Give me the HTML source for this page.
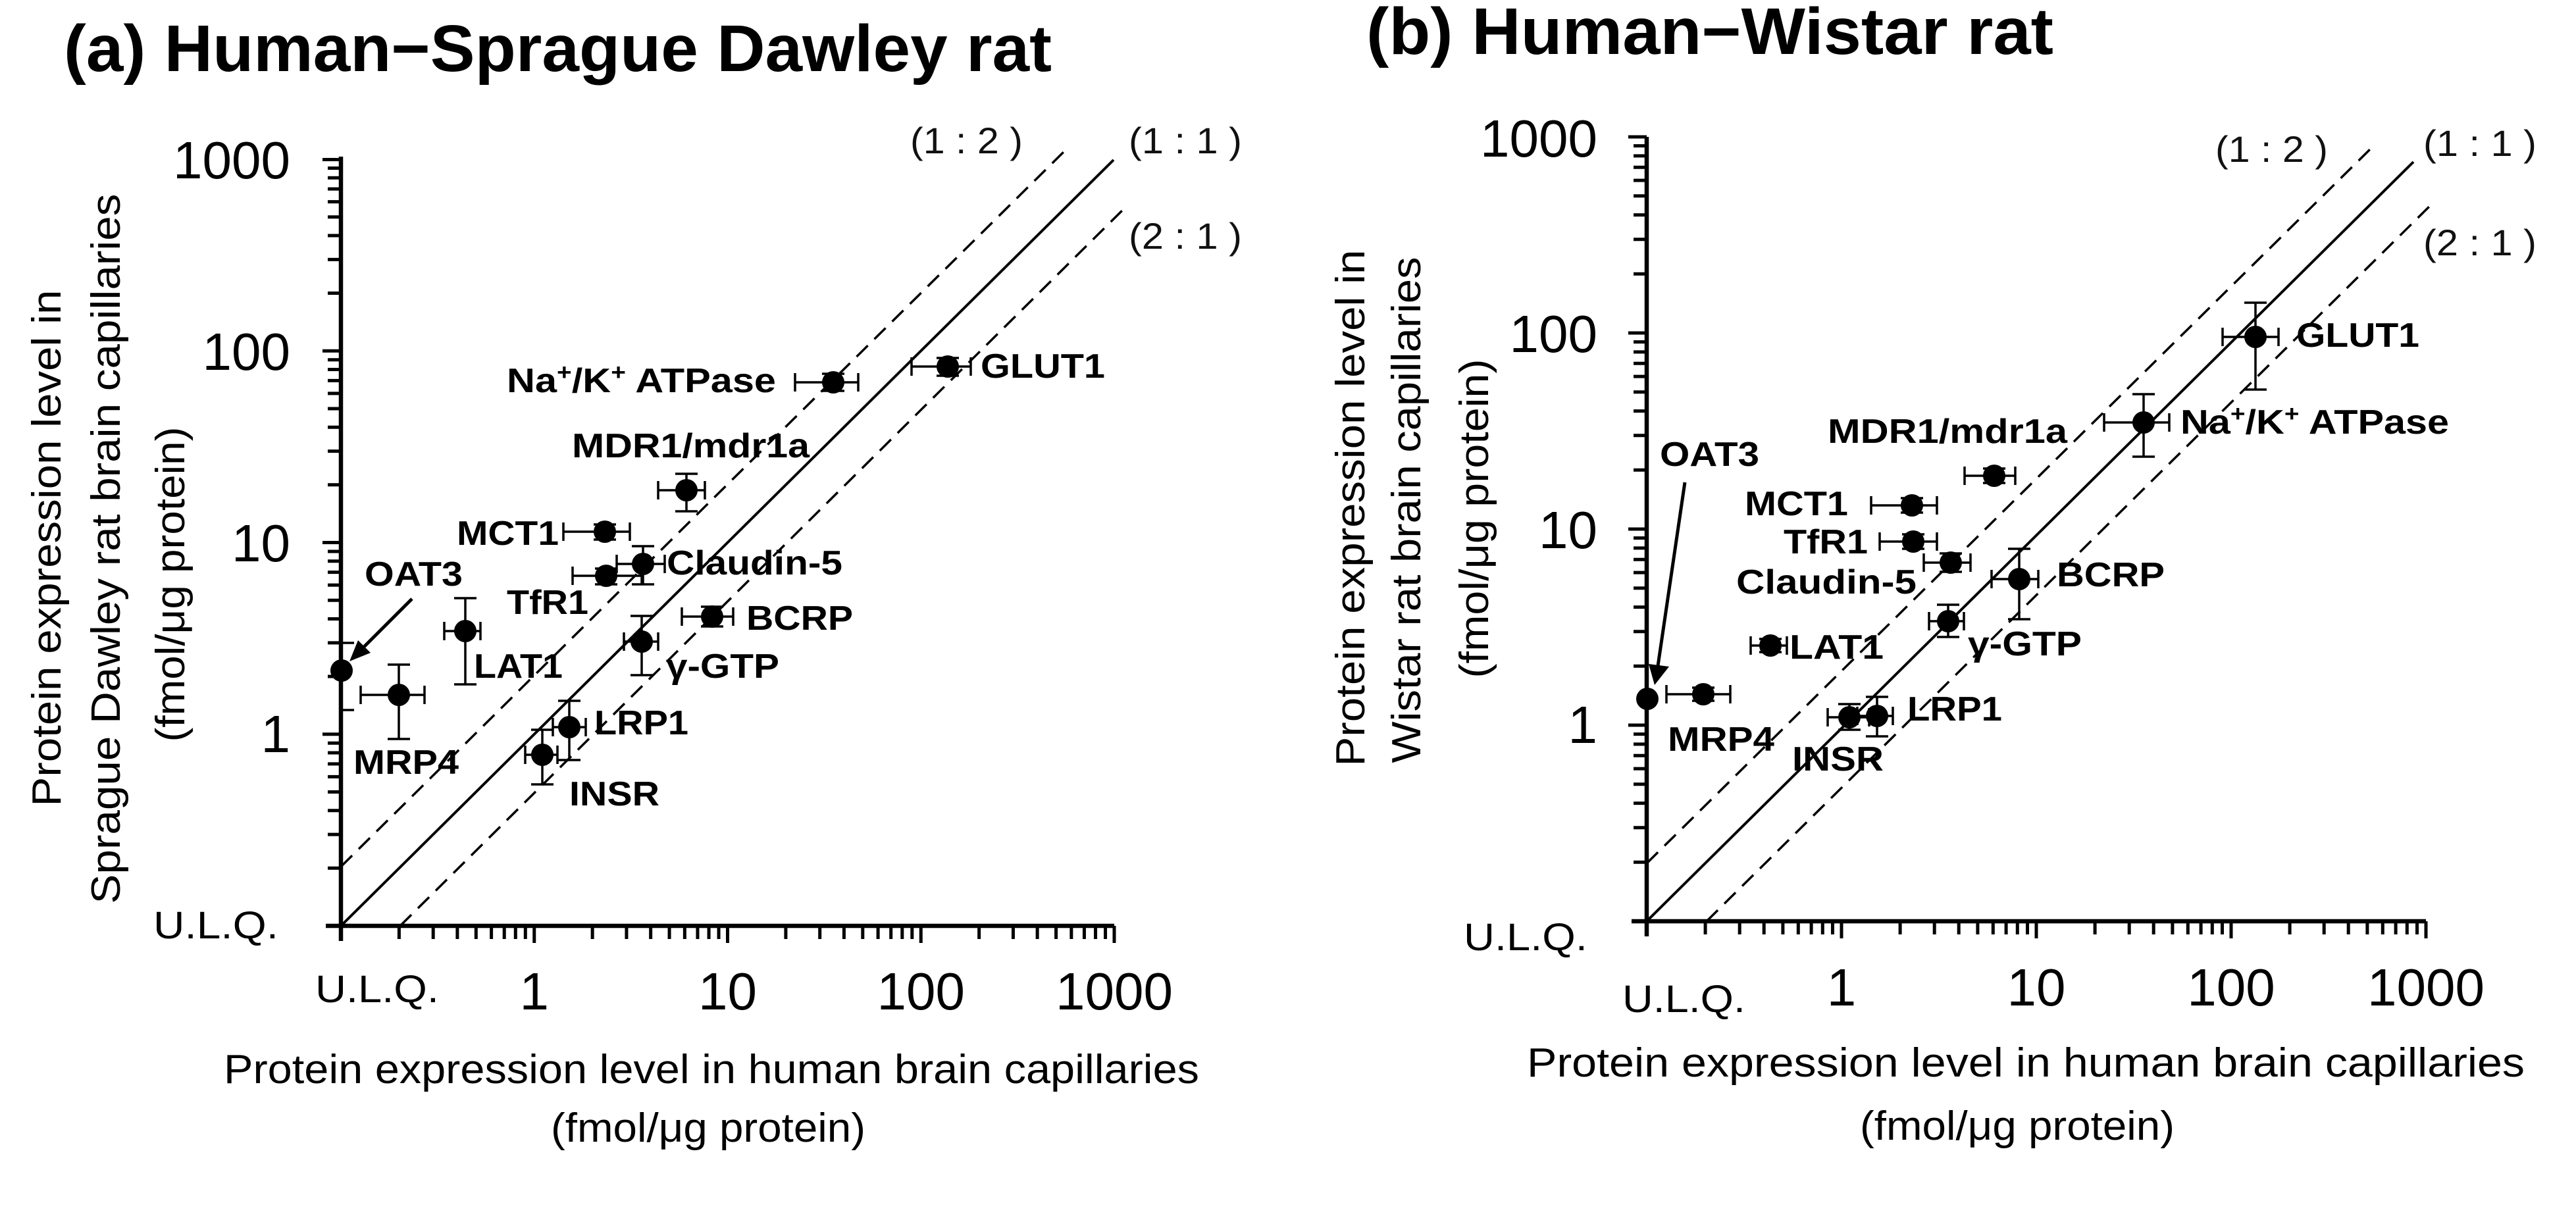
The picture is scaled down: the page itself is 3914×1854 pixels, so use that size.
<!DOCTYPE html>
<html><head><meta charset="utf-8"><style>
html,body{margin:0;padding:0;background:#fff;}
svg{display:block;}
text{font-family:"Liberation Sans",Arial,sans-serif;fill:#000;}
.t{font-weight:bold;font-size:100px;}
.lab{font-weight:bold;font-size:52px;}
.tk{font-size:80px;}
.ulq{font-size:58px;}
.ax{font-size:62px;}
.rt{font-size:56px;fill:#111;}
</style></head><body>
<svg width="3914" height="1854" viewBox="0 0 3914 1854" xmlns="http://www.w3.org/2000/svg">
<defs>
<path id="yaA" d="M0,-87.7h-20M0,-138.9h-20M0,-175.3h-20M0,-203.5h-20M0,-226.6h-20M0,-246.1h-20M0,-263h-20M0,-277.8h-20" stroke="#000" stroke-width="5"/>
<path id="xaA" d="M88.4,0v20M140.2,0v20M176.9,0v20M205.3,0v20M228.6,0v20M248.2,0v20M265.3,0v20M280.3,0v20" stroke="#000" stroke-width="5"/>
<path id="yaB" d="M0,-89.7h-20M0,-142.2h-20M0,-179.4h-20M0,-208.3h-20M0,-231.9h-20M0,-251.8h-20M0,-269.1h-20M0,-284.4h-20" stroke="#000" stroke-width="5"/>
<path id="xaB" d="M89.1,0v20M141.2,0v20M178.2,0v20M206.9,0v20M230.3,0v20M250.1,0v20M267.3,0v20M282.5,0v20" stroke="#000" stroke-width="5"/>
</defs>

<!-- ================= PANEL A ================= -->
<text class="t" x="97" y="108" textLength="1501" lengthAdjust="spacingAndGlyphs">(a) Human−Sprague Dawley rat</text>

<!-- y-axis title -->
<text class="ax" text-anchor="middle" transform="translate(92,833) rotate(-90)" textLength="785" lengthAdjust="spacingAndGlyphs">Protein expression level in</text>
<text class="ax" text-anchor="middle" transform="translate(182,834) rotate(-90)" textLength="1079" lengthAdjust="spacingAndGlyphs">Sprague Dawley rat brain capillaries</text>
<text class="ax" text-anchor="middle" transform="translate(280,888) rotate(-90)" textLength="479" lengthAdjust="spacingAndGlyphs">(fmol/μg protein)</text>

<!-- x-axis title -->
<text class="ax" x="340" y="1646" textLength="1482" lengthAdjust="spacingAndGlyphs">Protein expression level in human brain capillaries</text>
<text class="ax" x="837" y="1735" textLength="478" lengthAdjust="spacingAndGlyphs">(fmol/μg protein)</text>

<!-- axes -->
<g stroke="#000" fill="none">
<path d="M518,238V1430M495,1407H1693" stroke-width="6.5"/>
<path d="M518,242.5h-28M518,533.25h-28M518,824.5h-28M518,1115.75h-28" stroke-width="5"/>
<path d="M811.75,1407v26M1105.5,1407v26M1399.25,1407v26M1693,1407v26" stroke-width="5"/>
</g>
<use href="#yaA" transform="translate(518,1407)"/>
<use href="#yaA" transform="translate(518,1115.75)"/>
<use href="#yaA" transform="translate(518,824.5)"/>
<use href="#yaA" transform="translate(518,533.25)"/>
<use href="#xaA" transform="translate(518,1407)"/>
<use href="#xaA" transform="translate(811.75,1407)"/>
<use href="#xaA" transform="translate(1105.5,1407)"/>
<use href="#xaA" transform="translate(1399.25,1407)"/>

<!-- tick labels -->
<g class="tk" text-anchor="end">
<text class="tk" x="441" y="271">1000</text>
<text class="tk" x="441" y="562">100</text>
<text class="tk" x="441" y="853">10</text>
<text class="tk" x="441" y="1143">1</text>
</g>
<text class="ulq" x="233" y="1426" textLength="190" lengthAdjust="spacingAndGlyphs">U.L.Q.</text>
<text class="ulq" x="479" y="1523" textLength="188" lengthAdjust="spacingAndGlyphs">U.L.Q.</text>
<text class="tk" x="811.75" y="1534" text-anchor="middle">1</text>
<text class="tk" x="1105.5" y="1534" text-anchor="middle">10</text>
<text class="tk" x="1399.25" y="1534" text-anchor="middle">100</text>
<text class="tk" x="1693" y="1534" text-anchor="middle">1000</text>

<!-- reference lines -->
<g stroke="#000" fill="none">
<path d="M518,1407L1692,243" stroke-width="4"/>
<path d="M518,1317L1617,230" stroke-width="3.5" stroke-dasharray="24 14"/>
<path d="M608,1407L1710,315" stroke-width="3.5" stroke-dasharray="24 14"/>
</g>
<text class="rt" x="1383" y="233" textLength="171" lengthAdjust="spacingAndGlyphs">(1 : 2 )</text>
<text class="rt" x="1715" y="233" textLength="172" lengthAdjust="spacingAndGlyphs">(1 : 1 )</text>
<text class="rt" x="1715" y="378" textLength="172" lengthAdjust="spacingAndGlyphs">(2 : 1 )</text>

<!-- error bars -->
<g stroke="#000" stroke-width="3.5" fill="none">
<!-- GLUT1 -->
<path d="M1385,557H1475M1385,543v28M1475,543v28M1440,544V571M1423,544h34M1423,571h34"/>
<!-- NaK -->
<path d="M1208,581H1304M1208,567v28M1304,567v28M1266,568V594M1249,568h34M1249,594h34"/>
<!-- MDR1 -->
<path d="M1000,745H1071M1000,731v28M1071,731v28M1043,720V777M1026,720h34M1026,777h34"/>
<!-- MCT1 -->
<path d="M856,808H957M856,794v28M957,794v28M919,797V820M902,797h34M902,820h34"/>
<!-- Claudin-5 -->
<path d="M937,857H1010M937,843v28M1010,843v28M977,830V888M960,830h34M960,888h34"/>
<!-- TfR1 -->
<path d="M870,875H975M870,861v28M975,861v28M921,864V888M904,864h34M904,888h34"/>
<!-- BCRP -->
<path d="M1036,937H1114M1036,923v28M1114,923v28M1082,922V952M1065,922h34M1065,952h34"/>
<!-- gGTP -->
<path d="M948,975H1000M948,961v28M1000,961v28M975,936V1026M958,936h34M958,1026h34"/>
<!-- LAT1 -->
<path d="M675,959H730M675,945v28M730,945v28M707,909V1040M690,909h34M690,1040h34"/>
<!-- OAT3 -->
<path d="M519,977V1079M519,977h19M519,1079h19"/>
<!-- MRP4 -->
<path d="M548,1056H645M548,1042v28M645,1042v28M606,1010V1123M589,1010h34M589,1123h34"/>
<!-- LRP1 -->
<path d="M840,1105H890M840,1091v28M890,1091v28M865,1065V1155M848,1065h34M848,1155h34"/>
<!-- INSR -->
<path d="M798,1147H847M798,1133v28M847,1133v28M824,1109V1192M807,1109h34M807,1192h34"/>
</g>
<g fill="#000">
<circle cx="1440" cy="557" r="17"/>
<circle cx="1266" cy="581" r="17"/>
<circle cx="1043" cy="745" r="17"/>
<circle cx="919" cy="808" r="17"/>
<circle cx="977" cy="857" r="17"/>
<circle cx="921" cy="875" r="17"/>
<circle cx="1082" cy="937" r="17"/>
<circle cx="975" cy="975" r="17"/>
<circle cx="707" cy="959" r="17"/>
<circle cx="519" cy="1019" r="17"/>
<circle cx="606" cy="1056" r="17"/>
<circle cx="865" cy="1105" r="17"/>
<circle cx="824" cy="1147" r="17"/>
</g>
<!-- OAT3 arrow -->
<path d="M626,910L553,983" stroke="#000" stroke-width="5"/>
<polygon points="531,1005 563,992 544,973" fill="#000"/>

<!-- labels -->
<text class="lab" x="1490" y="574" textLength="189" lengthAdjust="spacingAndGlyphs">GLUT1</text>
<text class="lab" x="770" y="596" textLength="409" lengthAdjust="spacingAndGlyphs">Na<tspan font-size="34" dy="-19">+</tspan><tspan dy="19">/K</tspan><tspan font-size="34" dy="-19">+</tspan><tspan dy="19"> ATPase</tspan></text>
<text class="lab" x="869" y="695" textLength="361" lengthAdjust="spacingAndGlyphs">MDR1/mdr1a</text>
<text class="lab" x="694" y="828" textLength="155" lengthAdjust="spacingAndGlyphs">MCT1</text>
<text class="lab" x="1013" y="873" textLength="267" lengthAdjust="spacingAndGlyphs">Claudin-5</text>
<text class="lab" x="770" y="933" textLength="124" lengthAdjust="spacingAndGlyphs">TfR1</text>
<text class="lab" x="1134" y="957" textLength="162" lengthAdjust="spacingAndGlyphs">BCRP</text>
<text class="lab" x="1012" y="1030" textLength="172" lengthAdjust="spacingAndGlyphs">γ-GTP</text>
<text class="lab" x="720" y="1030" textLength="135" lengthAdjust="spacingAndGlyphs">LAT1</text>
<text class="lab" x="554" y="890" textLength="149" lengthAdjust="spacingAndGlyphs">OAT3</text>
<text class="lab" x="537" y="1176" textLength="160" lengthAdjust="spacingAndGlyphs">MRP4</text>
<text class="lab" x="903" y="1116" textLength="143" lengthAdjust="spacingAndGlyphs">LRP1</text>
<text class="lab" x="865" y="1224" textLength="137" lengthAdjust="spacingAndGlyphs">INSR</text>

<!-- ================= PANEL B ================= -->
<text class="t" x="2076" y="82" textLength="1044" lengthAdjust="spacingAndGlyphs">(b) Human−Wistar rat</text>

<text class="ax" text-anchor="middle" transform="translate(2073,772) rotate(-90)" textLength="785" lengthAdjust="spacingAndGlyphs">Protein expression level in</text>
<text class="ax" text-anchor="middle" transform="translate(2158,775) rotate(-90)" textLength="769" lengthAdjust="spacingAndGlyphs">Wistar rat brain capillaries</text>
<text class="ax" text-anchor="middle" transform="translate(2261,788) rotate(-90)" textLength="485" lengthAdjust="spacingAndGlyphs">(fmol/μg protein)</text>

<text class="ax" x="2320" y="1636" textLength="1516" lengthAdjust="spacingAndGlyphs">Protein expression level in human brain capillaries</text>
<text class="ax" x="2826" y="1732" textLength="478" lengthAdjust="spacingAndGlyphs">(fmol/μg protein)</text>

<g stroke="#000" fill="none">
<path d="M2502,208V1423M2479,1400H3686" stroke-width="6.5"/>
<path d="M2502,208h-28M2502,506h-28M2502,804h-28M2502,1102h-28" stroke-width="5"/>
<path d="M2798,1400v26M3094,1400v26M3390,1400v26M3686,1400v26" stroke-width="5"/>
</g>
<use href="#yaB" transform="translate(2502,1400)"/>
<use href="#yaB" transform="translate(2502,1102)"/>
<use href="#yaB" transform="translate(2502,804)"/>
<use href="#yaB" transform="translate(2502,506)"/>
<use href="#xaB" transform="translate(2502,1400)"/>
<use href="#xaB" transform="translate(2798,1400)"/>
<use href="#xaB" transform="translate(3094,1400)"/>
<use href="#xaB" transform="translate(3390,1400)"/>

<text class="tk" x="2427" y="238" text-anchor="end">1000</text>
<text class="tk" x="2427" y="535" text-anchor="end">100</text>
<text class="tk" x="2427" y="833" text-anchor="end">10</text>
<text class="tk" x="2427" y="1129" text-anchor="end">1</text>
<text class="ulq" x="2224" y="1444" textLength="188" lengthAdjust="spacingAndGlyphs">U.L.Q.</text>
<text class="ulq" x="2465" y="1538" textLength="187" lengthAdjust="spacingAndGlyphs">U.L.Q.</text>
<text class="tk" x="2798" y="1528" text-anchor="middle">1</text>
<text class="tk" x="3094" y="1528" text-anchor="middle">10</text>
<text class="tk" x="3390" y="1528" text-anchor="middle">100</text>
<text class="tk" x="3686" y="1528" text-anchor="middle">1000</text>

<g stroke="#000" fill="none">
<path d="M2502,1400L3667,246" stroke-width="4"/>
<path d="M2502,1312L3606,222" stroke-width="3.5" stroke-dasharray="24 14"/>
<path d="M2593,1400L3697,308" stroke-width="3.5" stroke-dasharray="24 14"/>
</g>
<text class="rt" x="3366" y="246" textLength="171" lengthAdjust="spacingAndGlyphs">(1 : 2 )</text>
<text class="rt" x="3682" y="237" textLength="172" lengthAdjust="spacingAndGlyphs">(1 : 1 )</text>
<text class="rt" x="3682" y="388" textLength="172" lengthAdjust="spacingAndGlyphs">(2 : 1 )</text>

<g stroke="#000" stroke-width="3.5" fill="none">
<!-- GLUT1 -->
<path d="M3377,512H3462M3377,498v28M3462,498v28M3427,460V592M3410,460h34M3410,592h34"/>
<!-- NaK -->
<path d="M3197,642H3296M3197,628v28M3296,628v28M3257,599V694M3240,599h34M3240,694h34"/>
<!-- MDR1 -->
<path d="M2985,723H3062M2985,709v28M3062,709v28M3030,712V734M3013,712h34M3013,734h34"/>
<!-- MCT1 -->
<path d="M2843,768H2943M2843,754v28M2943,754v28M2905,757V779M2888,757h34M2888,779h34"/>
<!-- TfR1 -->
<path d="M2856,823H2943M2856,809v28M2943,809v28M2907,812V834M2890,812h34M2890,834h34"/>
<!-- Claudin -->
<path d="M2923,855H2994M2923,841v28M2994,841v28M2964,841V869M2947,841h34M2947,869h34"/>
<!-- BCRP -->
<path d="M3026,880H3097M3026,866v28M3097,866v28M3068,834V941M3051,834h34M3051,941h34"/>
<!-- gGTP -->
<path d="M2931,944H2984M2931,930v28M2984,930v28M2960,919V968M2943,919h34M2943,968h34"/>
<!-- LAT1 -->
<path d="M2660,981H2715M2660,967v28M2715,967v28M2690,971V991M2673,971h34M2673,991h34"/>
<!-- MRP4 -->
<path d="M2532,1055H2629M2532,1041v28M2629,1041v28M2588,1045V1065M2571,1045h34M2571,1065h34"/>
<!-- INSR -->
<path d="M2777,1090H2840M2777,1076v28M2840,1076v28M2810,1070V1109M2793,1070h34M2793,1109h34"/>
<!-- LRP1 -->
<path d="M2822,1088H2876M2822,1074v28M2876,1074v28M2852,1059V1119M2835,1059h34M2835,1119h34"/>
</g>
<g fill="#000">
<circle cx="3427" cy="512" r="17"/>
<circle cx="3257" cy="642" r="17"/>
<circle cx="3030" cy="723" r="17"/>
<circle cx="2905" cy="768" r="17"/>
<circle cx="2907" cy="823" r="17"/>
<circle cx="2964" cy="855" r="17"/>
<circle cx="3068" cy="880" r="17"/>
<circle cx="2960" cy="944" r="17"/>
<circle cx="2690" cy="981" r="17"/>
<circle cx="2503" cy="1062" r="17"/>
<circle cx="2588" cy="1055" r="17"/>
<circle cx="2810" cy="1090" r="17"/>
<circle cx="2852" cy="1088" r="17"/>
</g>
<path d="M2560,733L2519,1012" stroke="#000" stroke-width="5"/>
<polygon points="2514,1041 2536,1013 2505,1009" fill="#000"/>

<text class="lab" x="3489" y="527" textLength="187" lengthAdjust="spacingAndGlyphs">GLUT1</text>
<text class="lab" x="3313" y="659" textLength="408" lengthAdjust="spacingAndGlyphs">Na<tspan font-size="34" dy="-19">+</tspan><tspan dy="19">/K</tspan><tspan font-size="34" dy="-19">+</tspan><tspan dy="19"> ATPase</tspan></text>
<text class="lab" x="2777" y="673" textLength="364" lengthAdjust="spacingAndGlyphs">MDR1/mdr1a</text>
<text class="lab" x="2651" y="783" textLength="157" lengthAdjust="spacingAndGlyphs">MCT1</text>
<text class="lab" x="2710" y="841" textLength="128" lengthAdjust="spacingAndGlyphs">TfR1</text>
<text class="lab" x="2638" y="902" textLength="274" lengthAdjust="spacingAndGlyphs">Claudin-5</text>
<text class="lab" x="3125" y="891" textLength="164" lengthAdjust="spacingAndGlyphs">BCRP</text>
<text class="lab" x="2990" y="996" textLength="173" lengthAdjust="spacingAndGlyphs">γ-GTP</text>
<text class="lab" x="2719" y="1001" textLength="143" lengthAdjust="spacingAndGlyphs">LAT1</text>
<text class="lab" x="2522" y="708" textLength="151" lengthAdjust="spacingAndGlyphs">OAT3</text>
<text class="lab" x="2534" y="1141" textLength="162" lengthAdjust="spacingAndGlyphs">MRP4</text>
<text class="lab" x="2723" y="1171" textLength="139" lengthAdjust="spacingAndGlyphs">INSR</text>
<text class="lab" x="2898" y="1095" textLength="144" lengthAdjust="spacingAndGlyphs">LRP1</text>
</svg>
</body></html>
